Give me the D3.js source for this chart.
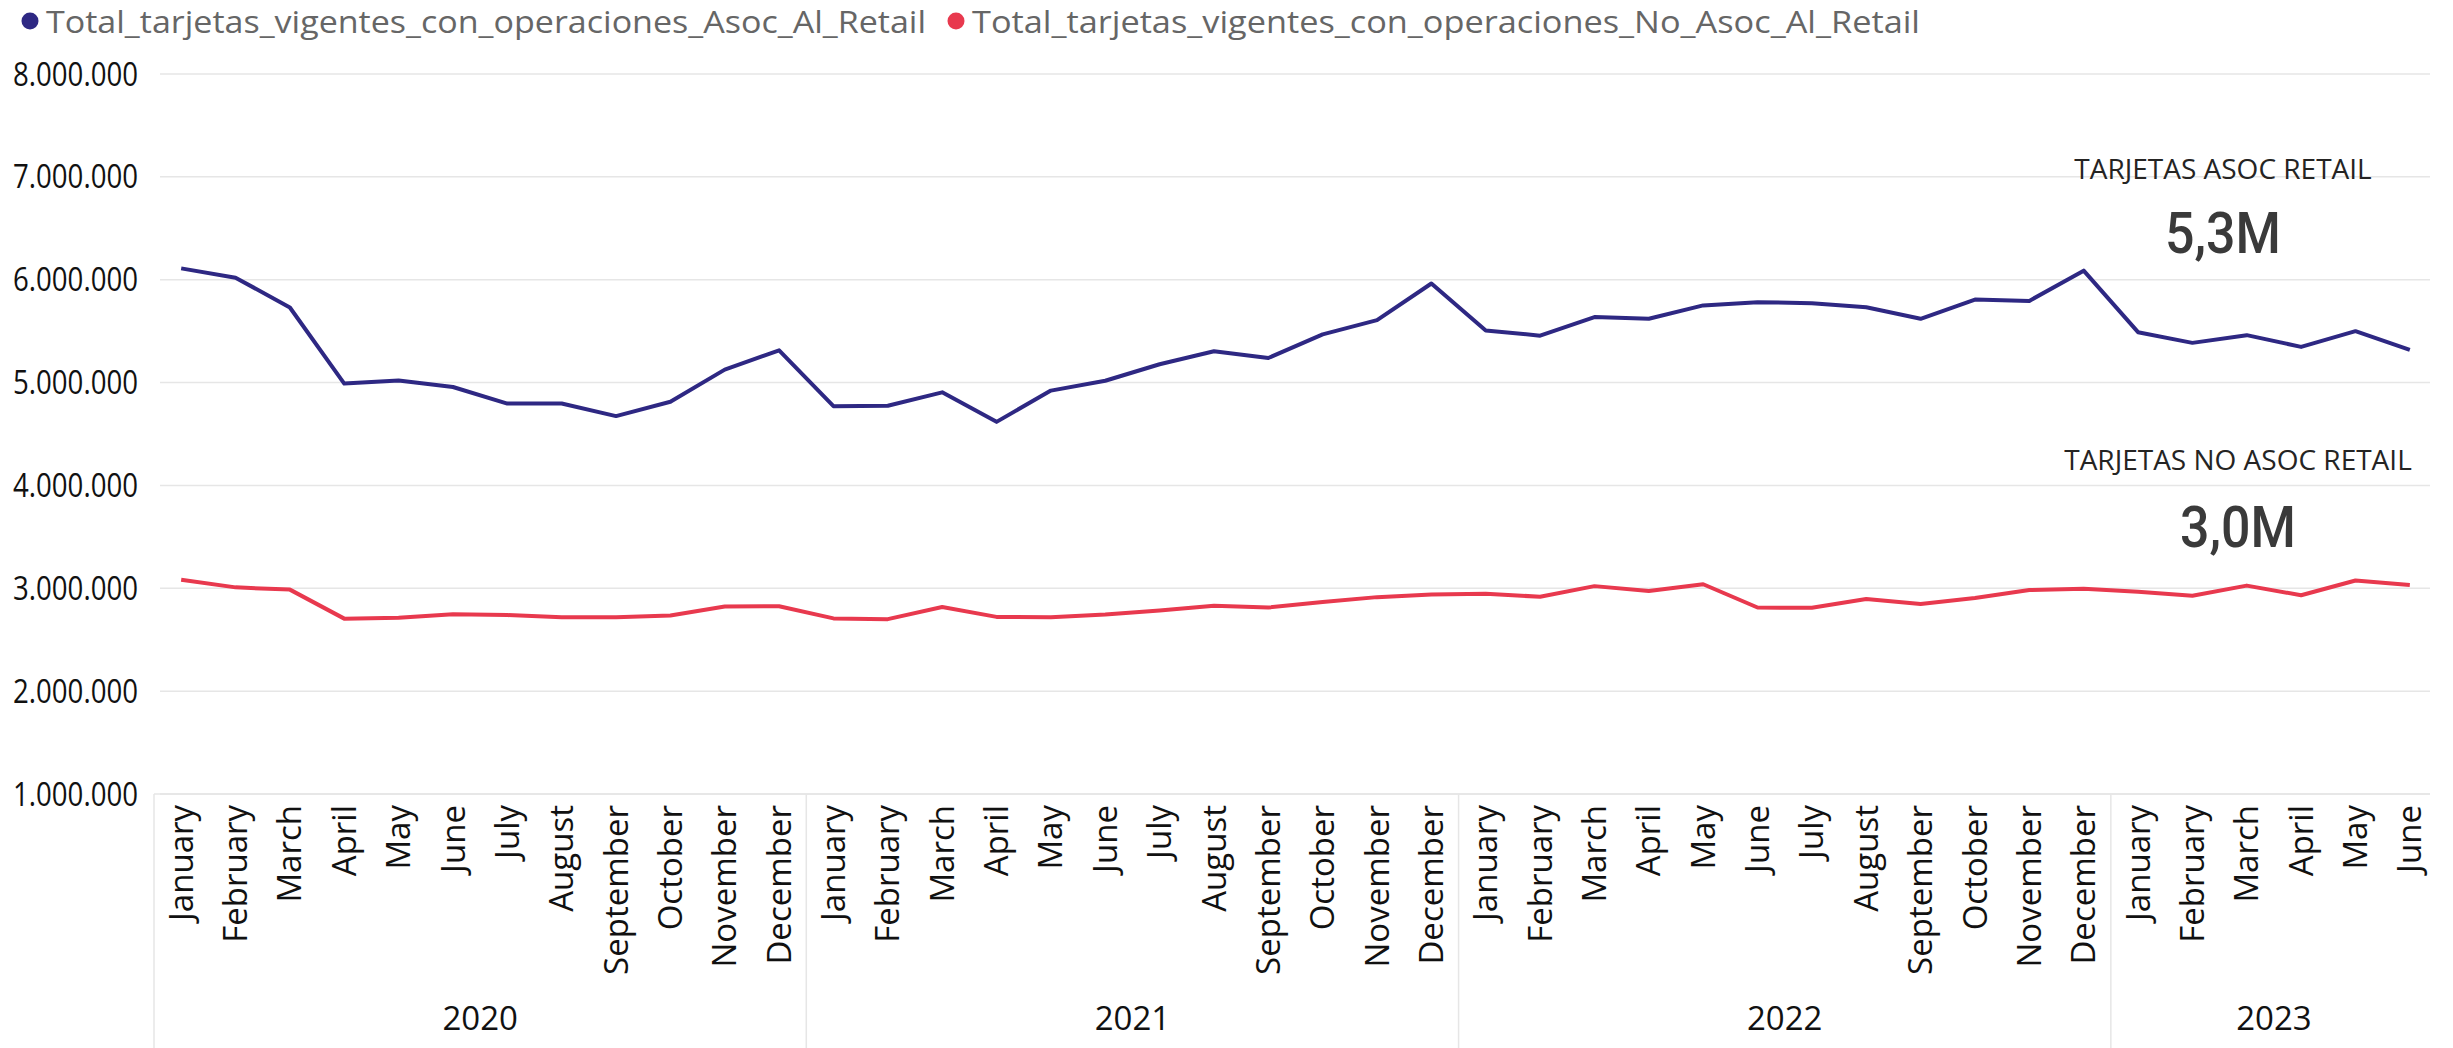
<!DOCTYPE html>
<html>
<head>
<meta charset="utf-8">
<script src="https://cdn.jsdelivr.net/npm/d3@7"></script>
<style>
  body { margin: 0; background: #fff; }
  text { font-family: "Segoe UI", "Open Sans", sans-serif; }
</style>
</head>
<body>
<div id="chart"></div>
<script>
// datos
var years = ["2020", "2021", "2022", "2023"];
var monthNames = ["January", "February", "March", "April", "May", "June",
  "July", "August", "September", "October", "November", "December"];
var monthsPerYear = [12, 12, 12, 6];

var seriesNames = ["Total_tarjetas_vigentes_con_operaciones_Asoc_Al_Retail",
  "Total_tarjetas_vigentes_con_operaciones_No_Asoc_Al_Retail"];

var asocRetail = [
  6110000, 6020000, 5730000, 4990000, 5020000, 4957000, 4796000, 4796000, 4674000, 4813000, 5126000, 5313000,
  4770000, 4775000, 4905000, 4618000, 4922000, 5018000, 5178000, 5304000, 5239000, 5468000, 5607000, 5963000,
  5507000, 5456000, 5637000, 5620000, 5750000, 5781000, 5772000, 5733000, 5620000, 5807000, 5794000, 6088000,
  5490000, 5386000, 5461000, 5347000, 5500000, 5317000
];
var noAsocRetail = [
  3083000, 3009000, 2987000, 2705000, 2713000, 2748000, 2740000, 2718000, 2718000, 2736000, 2822000, 2826000,
  2707000, 2700000, 2818000, 2722000, 2718000, 2744000, 2783000, 2831000, 2813000, 2866000, 2914000, 2940000,
  2948000, 2917000, 3021000, 2974000, 3039000, 2813000, 2810000, 2896000, 2848000, 2905000, 2983000, 2996000,
  2967000, 2927000, 3026000, 2932000, 3076000, 3031000
];
var yTicks = [1000000, 2000000, 3000000, 4000000, 5000000, 6000000, 7000000, 8000000];
var cardTitles = ["TARJETAS ASOC RETAIL", "TARJETAS NO ASOC RETAIL"];
var colors = ["#2E2883", "#E8394E"];

// periodos
var periods = [];
years.forEach(function(y, i) {
  for (var m = 0; m < monthsPerYear[i]; m++) periods.push({ year: y, month: monthNames[m] });
});

var width = 2453, height = 1048;

var svg = d3.select("#chart").append("svg")
  .attr("width", width)
  .attr("height", height);

var x = d3.scaleBand()
  .domain(d3.range(periods.length))
  .range([154, 2437]);

var y = d3.scaleLinear()
  .domain([1000000, 8000000])
  .range([794, 74]);

var fmt = function(v) { return d3.format(",")(v).replace(/,/g, "."); };

// grid
svg.append("g").selectAll("line")
  .data(yTicks)
  .enter().append("line")
  .attr("x1", 160).attr("x2", 2430)
  .attr("y1", function(d) { return y(d); })
  .attr("y2", function(d) { return y(d); })
  .attr("stroke", "#E6E6E6")
  .attr("stroke-width", 1.5);

// y axis labels
svg.append("g").selectAll("text")
  .data(yTicks)
  .enter().append("text")
  .attr("x", 138)
  .attr("y", function(d) { return y(d); })
  .attr("dy", "0.35em")
  .attr("text-anchor", "end")
  .attr("font-size", 33)
  .attr("textLength", 125)
  .attr("lengthAdjust", "spacingAndGlyphs")
  .attr("fill", "#111")
  .text(fmt);

// x axis: meses
svg.append("g").selectAll("text")
  .data(periods)
  .enter().append("text")
  .attr("transform", function(d, i) {
    return "translate(" + (x(i) + x.bandwidth() / 2) + ",805) rotate(-90)";
  })
  .attr("dy", "0.35em")
  .attr("text-anchor", "end")
  .attr("font-size", 33)
  .attr("fill", "#111")
  .text(function(d) { return d.month; });

// separadores de años
var yearStart = [];
var acc = 0;
monthsPerYear.forEach(function(n) { yearStart.push(acc); acc += n; });

svg.append("line")
  .attr("x1", 154).attr("x2", 2430)
  .attr("y1", 794).attr("y2", 794)
  .attr("stroke", "#E6E6E6").attr("stroke-width", 1.5);

svg.append("g").selectAll("line")
  .data(yearStart)
  .enter().append("line")
  .attr("x1", function(d) { return x(d); })
  .attr("x2", function(d) { return x(d); })
  .attr("y1", 794).attr("y2", height)
  .attr("stroke", "#E6E6E6").attr("stroke-width", 1.5);

svg.append("g").selectAll("text")
  .data(years)
  .enter().append("text")
  .attr("x", function(d, i) {
    var a = x(yearStart[i]);
    var b = x(yearStart[i] + monthsPerYear[i] - 1) + x.bandwidth();
    return (a + b) / 2;
  })
  .attr("y", 1030)
  .attr("text-anchor", "middle")
  .attr("font-size", 33)
  .attr("fill", "#111")
  .text(function(d) { return d; });

// lineas
var line = d3.line()
  .x(function(d, i) { return x(i) + x.bandwidth() / 2; })
  .y(function(d) { return y(d); });

[asocRetail, noAsocRetail].forEach(function(s, k) {
  svg.append("path")
    .datum(s)
    .attr("d", line)
    .attr("fill", "none")
    .attr("stroke", colors[k])
    .attr("stroke-width", 4)
    .attr("stroke-linejoin", "round");
});

// leyenda
var legendX = [30, 956];
var legendW = [880, 948];
seriesNames.forEach(function(name, i) {
  svg.append("circle")
    .attr("cx", legendX[i]).attr("cy", 21)
    .attr("r", 8.5)
    .attr("fill", colors[i]);
  svg.append("text")
    .attr("x", legendX[i] + 16)
    .attr("y", 33)
    .attr("font-size", 31)
    .attr("textLength", legendW[i])
    .attr("lengthAdjust", "spacingAndGlyphs")
    .attr("fill", "#666")
    .text(name);
});

// tarjetas (valor del último mes)
var cards = [
  { title: cardTitles[0], value: asocRetail[asocRetail.length - 1], cx: 2223, ty: 179, vy: 253 },
  { title: cardTitles[1], value: noAsocRetail[noAsocRetail.length - 1], cx: 2238, ty: 470, vy: 547 }
];
var fmtM = function(v) { return d3.format(".1f")(v / 1e6).replace(".", ",") + "M"; };

cards.forEach(function(c) {
  svg.append("text")
    .attr("x", c.cx).attr("y", c.ty)
    .attr("text-anchor", "middle")
    .attr("font-size", 28)
    .attr("fill", "#252423")
    .text(c.title);
  svg.append("text")
    .attr("x", c.cx).attr("y", c.vy)
    .attr("text-anchor", "middle")
    .attr("font-size", 57)
    .attr("font-weight", 500)
    .attr("textLength", 116)
    .attr("lengthAdjust", "spacingAndGlyphs")
    .style("font-family", "Roboto, sans-serif")
    .attr("fill", "#3a3a3a")
    .text(fmtM(c.value));
});
</script>
</body>
</html>
